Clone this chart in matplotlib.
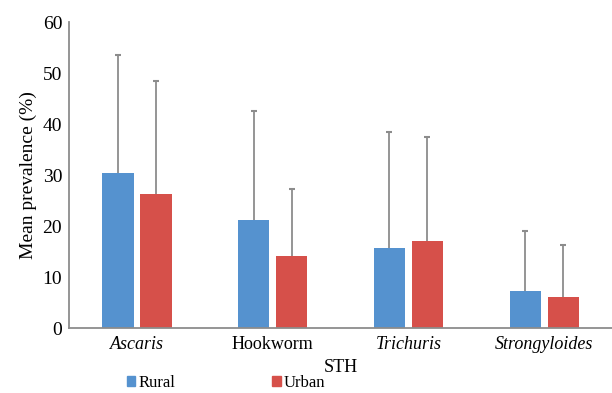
import matplotlib.pyplot as plt
import numpy as np
from matplotlib.patches import Patch

categories = ['Ascaris', 'Hookworm', 'Trichuris', 'Strongyloides']
rural = [30.5, 21.1, 15.8, 7.2]
urban = [26.2, 14.1, 17.0, 6.1]
rural_err = [23.0, 21.5, 22.7, 11.9]
urban_err = [22.2, 13.2, 20.5, 10.1]

plt.rcParams['font.family'] = ['Liberation Serif', 'DejaVu Serif']

fig = plt.figure(figsize=(6.12, 3.93), dpi=100)
ax = fig.add_axes([0.113, 0.165, 0.887, 0.779])

x = np.arange(len(categories))
w = 0.23
blue = '#5592CF'
red = '#D6504A'
grey = '#8C8C8C'

for off, vals, errs, col in [(-0.14, rural, rural_err, blue),
                             (0.14, urban, urban_err, red)]:
    vals = np.array(vals)
    errs = np.array(errs)
    ax.bar(x + off, vals, w, color=col)
    # upper-only error bars
    ax.vlines(x + off, vals, vals + errs, color=grey, lw=1.3, zorder=3)
    ax.plot(x + off, vals + errs, ls='none', marker='_', ms=5, mew=1.5,
            color=grey, zorder=3)

ax.set_xlim(-0.5, 3.5)
ax.set_ylim(0, 60)
ax.set_yticks(range(0, 61, 10))
ax.set_xticks(x)
ax.set_xticklabels(categories, fontsize=13)
for lbl in ax.get_xticklabels():
    if lbl.get_text() != 'Hookworm':
        lbl.set_style('italic')
ax.tick_params(axis='y', labelsize=14, length=0, pad=5)
ax.tick_params(axis='x', length=0, pad=6)

for s in ['top', 'right']:
    ax.spines[s].set_visible(False)
for s in ['left', 'bottom']:
    ax.spines[s].set_color(grey)
    ax.spines[s].set_linewidth(1.3)

ax.set_ylabel('Mean prevalence (%)', fontsize=14, labelpad=4)
ax.set_xlabel('STH', fontsize=13, labelpad=4)

handles = [Patch(color=blue, label='Rural'), Patch(color=red, label='Urban')]
fig.legend(handles=handles, loc='lower left', bbox_to_anchor=(0.183, -0.033),
           ncol=2, frameon=False, fontsize=12, handlelength=0.5, handleheight=0.5,
           handletextpad=0.2, columnspacing=5.8)

plt.savefig('out.png')
